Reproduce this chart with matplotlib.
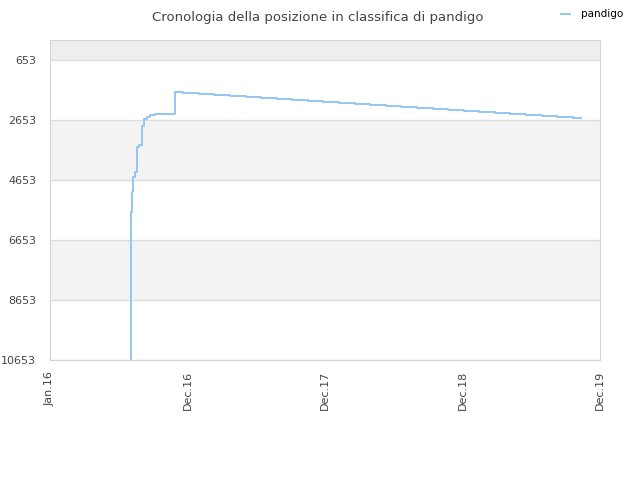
import numpy as np
import pandas as pd
import matplotlib
matplotlib.use('Agg')
import matplotlib.pyplot as plt

# posizione in classifica (rank), step data
dates = ['2016-08-01', '2016-08-02', '2016-08-04', '2016-08-07', '2016-08-09',
         '2016-08-13', '2016-08-18', '2016-08-20', '2016-08-24', '2016-09-01',
         '2016-09-06', '2016-09-14', '2016-09-22', '2016-10-05', '2016-11-27',
         '2016-12-18', '2017-01-31', '2017-03-11', '2017-04-23', '2017-06-04',
         '2017-07-14', '2017-08-25', '2017-10-04', '2017-11-16', '2017-12-25',
         '2018-02-06', '2018-03-20', '2018-04-29', '2018-06-11', '2018-07-20',
         '2018-09-01', '2018-10-13', '2018-11-22', '2019-01-04', '2019-02-12',
         '2019-03-27', '2019-05-06', '2019-06-17', '2019-07-30', '2019-09-08',
         '2019-10-20', '2019-11-10']
ranks = [11000, 6296, 5710, 5063, 4543,
         4400, 4263, 3563, 3500, 2843,
         2620, 2560, 2500, 2443, 1720,
         1753, 1786, 1820, 1853, 1886,
         1920, 1953, 1986, 2020, 2053,
         2086, 2120, 2153, 2186, 2220,
         2253, 2286, 2320, 2353, 2386,
         2420, 2453, 2486, 2520, 2553,
         2586, 2586]

yticks = [653, 2653, 4653, 6653, 8653, 10653]
xtick_dates = ['2016-01-01', '2016-12-31', '2017-12-31', '2018-12-31', '2019-12-31']
xtick_labels = ['Jan.16', 'Dec.16', 'Dec.17', 'Dec.18', 'Dec.19']

df = pd.DataFrame({'rank': ranks}, index=pd.to_datetime(dates))

fig = plt.figure(figsize=(6.4, 4.8), dpi=100)
ax = fig.add_axes([50/640, 120/480, 550/640, 320/480])

# alternating bands
ax.axhspan(-14, 653, color='#eeeeee', zorder=0, lw=0)
ax.axhspan(2653, 4653, color='#f3f3f3', zorder=0, lw=0)
ax.axhspan(6653, 8653, color='#f3f3f3', zorder=0, lw=0)
for y in yticks:
    ax.axhline(y, color='#dddddd', lw=1, zorder=1)

ax.plot(df.index, df['rank'], drawstyle='steps-post', color='#94c6f4',
        lw=1.4, label='pandigo', zorder=3)

ax.set_ylim(10653, -14)
ax.set_xlim(pd.Timestamp(xtick_dates[0]), pd.Timestamp(xtick_dates[-1]))
ax.set_yticks(yticks)
ax.set_yticklabels([str(v) for v in yticks])
ax.set_xticks(pd.to_datetime(xtick_dates))
ax.set_xticklabels(xtick_labels, rotation=90)
ax.tick_params(axis='both', length=0, labelsize=8, labelcolor='#444444')
ax.tick_params(axis='x', pad=8)
ax.tick_params(axis='y', pad=10)
for s in ax.spines.values():
    s.set_color('#d5d5d5')

fig.text(0.497, 0.978, 'Cronologia della posizione in classifica di pandigo',
         ha='center', va='top', fontsize=9.5, color='#444444')
fig.legend(loc='upper right', bbox_to_anchor=(0.988, 1.0), frameon=False,
           fontsize=7.5, handlelength=0.9, handletextpad=1.0)

plt.savefig('out.png', dpi=100)
